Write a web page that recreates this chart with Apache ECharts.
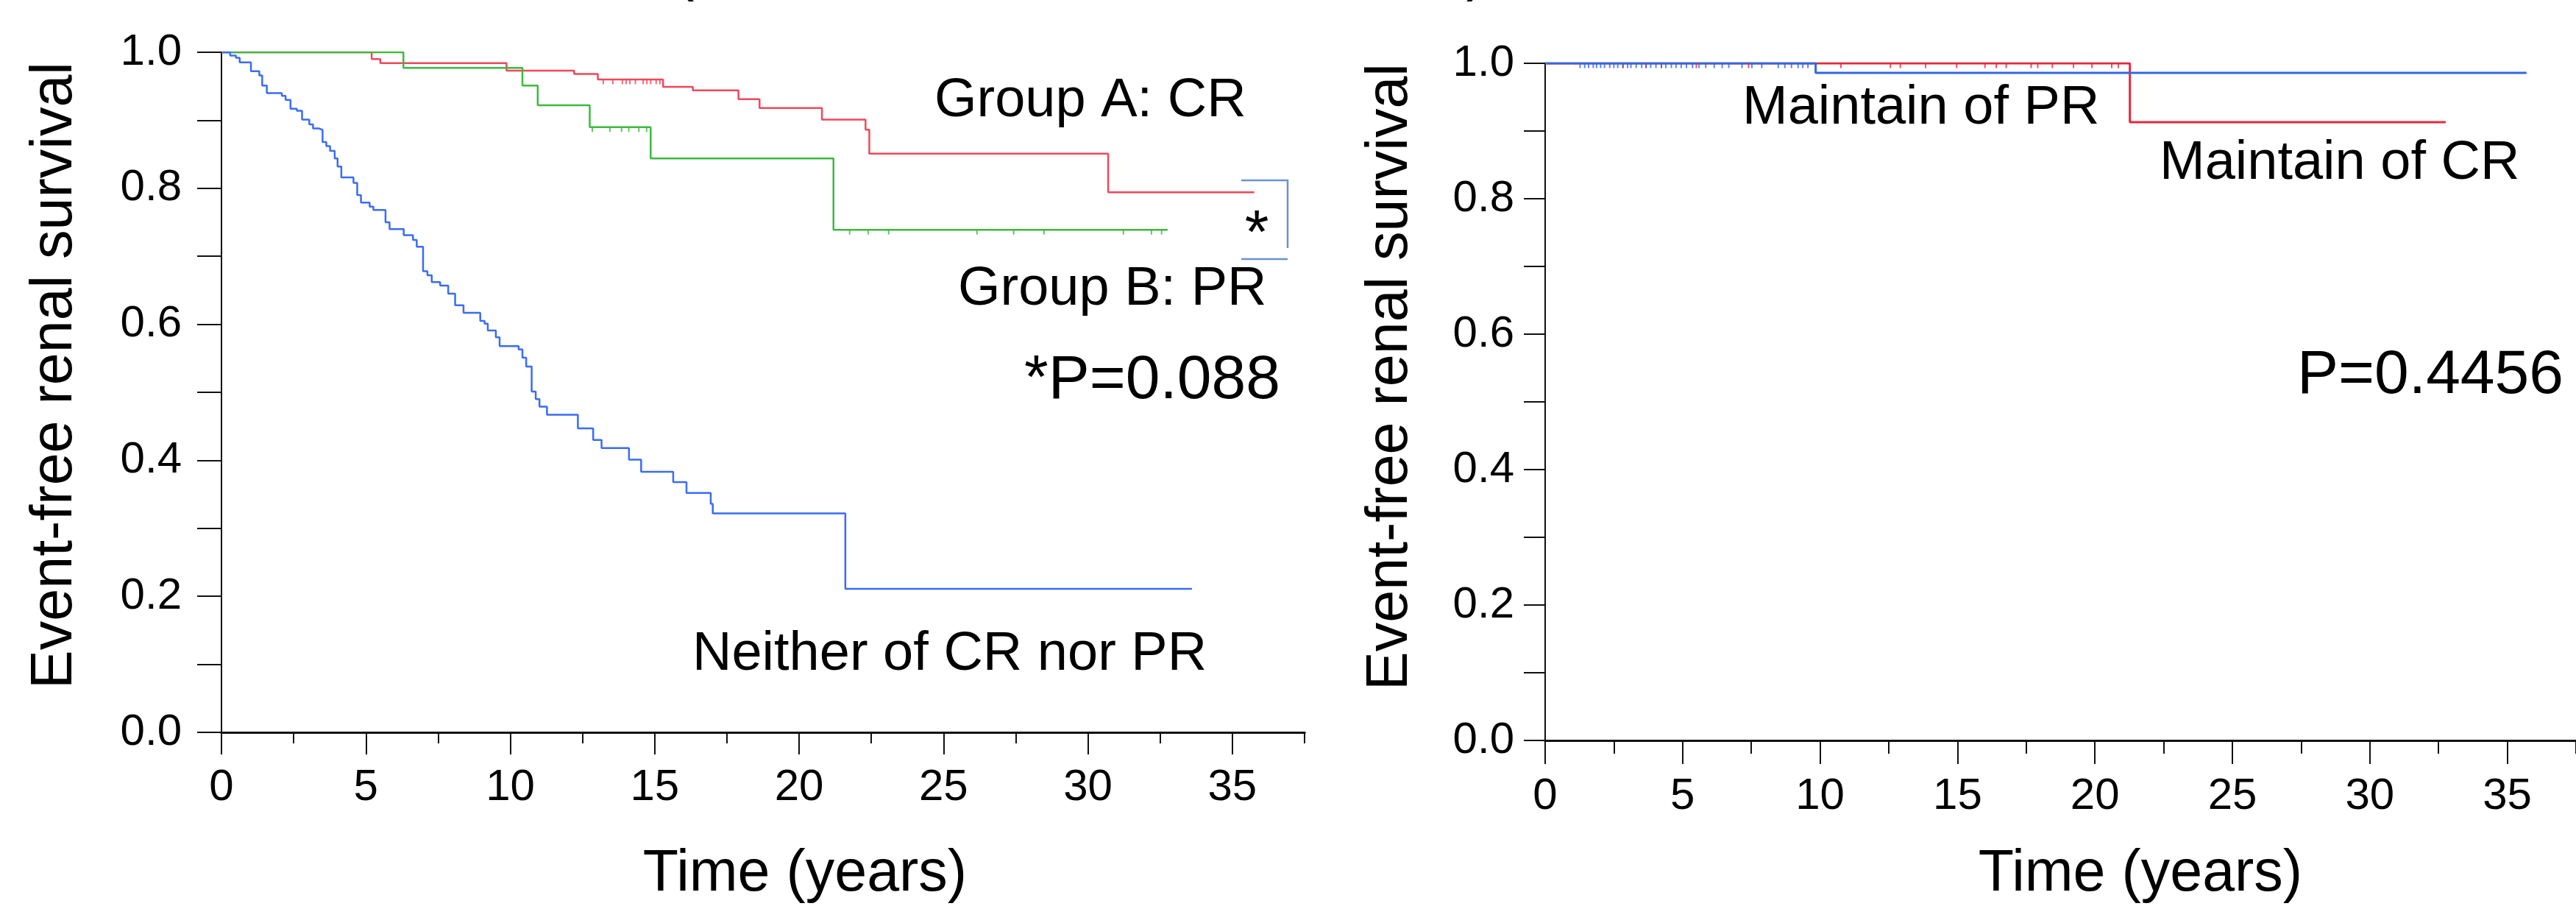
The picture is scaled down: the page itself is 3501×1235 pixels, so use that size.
<!DOCTYPE html>
<html>
<head>
<meta charset="utf-8">
<script src="https://cdn.jsdelivr.net/npm/echarts@6/dist/echarts.min.js"></script>
<style>
  html, body { margin: 0; padding: 0; background: #fff; }
  #chart { width: 3501px; height: 1235px; }
</style>
</head>
<body>
<div id="chart"></div>
<script>
// left panel: Group A (CR), Group B (PR), neither
const crTime = [0, 5.20, 5.50, 9.87, 12.21, 13.03, 15.29, 16.32, 17.90, 18.63, 20.79, 22.30, 22.43, 30.70, 35.76];
const crSurv = [1.000, 0.990, 0.984, 0.973, 0.968, 0.960, 0.949, 0.944, 0.931, 0.918, 0.901, 0.886, 0.851, 0.794, 0.794];
const crCensor = [13.22, 13.55, 13.88, 14.01, 14.14, 14.33, 14.60, 14.73, 14.86, 15.05, 15.18];

const prTime = [0, 6.30, 10.42, 10.95, 12.75, 14.86, 21.19, 32.76];
const prSurv = [1.000, 0.977, 0.951, 0.922, 0.890, 0.844, 0.739, 0.739];
const prCensor = [12.84, 13.45, 13.85, 14.10, 14.45, 14.72, 21.75, 22.39, 23.10, 26.16, 27.43, 28.48, 31.23, 32.20, 32.55];

const nTime = [0, 0.30, 0.50, 0.63, 1.02, 1.31, 1.41, 1.57, 2.09, 2.22, 2.39, 2.61, 2.79, 3.04, 3.17, 3.37,
  3.50, 3.63, 3.76, 3.92, 4.02, 4.15, 4.57, 4.70, 4.83, 5.13, 5.26, 5.68, 5.82, 6.31, 6.63, 6.76, 6.98,
  7.13, 7.28, 7.57, 7.85, 8.09, 8.38, 8.96, 9.11, 9.22, 9.50, 9.63, 10.29, 10.42, 10.55, 10.74, 10.88,
  11.01, 11.27, 12.34, 12.87, 13.16, 14.11, 14.53, 15.64, 16.10, 16.94, 17.01, 21.60, 33.60];
const nSurv = [1.000, 0.995, 0.992, 0.985, 0.972, 0.966, 0.951, 0.940, 0.936, 0.930, 0.917, 0.914, 0.901, 0.894,
  0.888, 0.886, 0.868, 0.862, 0.855, 0.844, 0.832, 0.816, 0.808, 0.790, 0.779, 0.773, 0.768, 0.750, 0.740,
  0.731, 0.724, 0.714, 0.678, 0.672, 0.662, 0.657, 0.645, 0.628, 0.617, 0.605, 0.601, 0.591, 0.581, 0.568,
  0.563, 0.551, 0.538, 0.501, 0.490, 0.479, 0.467, 0.447, 0.430, 0.418, 0.401, 0.383, 0.368, 0.352, 0.336,
  0.322, 0.211, 0.211];

// right panel: maintain of CR / PR
const mCrTime = [0, 21.27, 32.76];
const mCrSurv = [1.000, 0.913, 0.913];
const mCrCensor = [2.83, 3.67, 4.23, 5.50, 7.40, 10.76, 12.56, 12.92, 13.84, 14.97, 16.00, 16.41, 16.77, 17.68,
  17.92, 18.45, 19.22, 19.89, 20.61, 20.85];
const mPrTime = [0, 9.84, 35.70];
const mPrSurv = [1.000, 0.986, 0.986];
const mPrCensor = [1.27, 1.44, 1.58, 1.75, 1.87, 2.02, 2.16, 2.35, 2.50, 2.64, 2.83, 3.00, 3.12, 3.31, 3.51,
  3.67, 3.84, 4.03, 4.23, 4.39, 4.59, 4.76, 4.95, 5.14, 5.36, 5.60, 5.84, 6.15, 6.44, 6.68, 7.16, 7.52,
  7.88, 8.48, 8.72, 8.96, 9.20, 9.37, 9.56];

// axis ticks
const xTickLabels = [0, 5, 10, 15, 20, 25, 30, 35];
const xMinorTicks = [2.5, 7.5, 12.5, 17.5, 22.5, 27.5, 32.5, 37.5];
const yTicks = [0, 0.1, 0.2, 0.3, 0.4, 0.5, 0.6, 0.7, 0.8, 0.9, 1.0];
const yTickLabels = [0, 0.2, 0.4, 0.6, 0.8, 1.0];

const FONT = '"Liberation Sans", Arial, sans-serif';
const INK = '#111';

function pairs(ts, ss) { return ts.map((t, i) => [t, ss[i]]); }
function survAt(ts, ss, t) {
  let v = ss[0];
  ts.forEach((x, i) => { if (x <= t) v = ss[i]; });
  return v;
}

function kmLine(name, ts, ss, color, width, gi) {
  return {
    type: 'line', name, step: 'end', showSymbol: false, xAxisIndex: gi * 3, yAxisIndex: gi * 2,
    data: pairs(ts, ss), lineStyle: { color, width }, itemStyle: { color }, silent: true, z: 3,
  };
}
function censor(ts, ss, cs, color, gi) {
  return {
    type: 'scatter', xAxisIndex: gi * 3, yAxisIndex: gi * 2, symbol: 'rect',
    symbolSize: [2, 7], symbolOffset: [0, 3], itemStyle: { color }, silent: true, z: 3,
    data: cs.map((t) => [t, survAt(ts, ss, t)]),
  };
}

function xAxes(gi, majorLen, minorLen, margin) {
  return [
    {
      type: 'value', gridIndex: gi, min: 0, max: 37.5, position: 'bottom',
      axisLine: { show: true, onZero: false, lineStyle: { color: INK, width: 3 } },
      axisTick: { show: true, customValues: xTickLabels, length: majorLen, lineStyle: { color: INK, width: 2 } },
      axisLabel: { customValues: xTickLabels, margin, fontSize: 60, fontFamily: FONT, color: '#000' },
      splitLine: { show: false },
    },
    {
      type: 'value', gridIndex: gi, min: 0, max: 37.5, position: 'bottom',
      axisLine: { show: false },
      axisTick: { show: true, customValues: xMinorTicks, length: minorLen, lineStyle: { color: INK, width: 2 } },
      axisLabel: { show: false }, splitLine: { show: false },
    },
    {
      type: 'value', gridIndex: gi, min: 0, max: 37.5, position: 'top', offset: 1,
      axisLine: { show: true, lineStyle: { color: INK, width: 3 } },
      axisTick: { show: false }, axisLabel: { show: false }, splitLine: { show: false },
    },
  ];
}
function yAxes(gi, tickLen, margin) {
  return [
    {
      type: 'value', gridIndex: gi, min: 0, max: 1, position: 'left',
      axisLine: { show: true, onZero: false, lineStyle: { color: INK, width: 2 } },
      axisTick: { show: true, customValues: yTicks, length: tickLen, lineStyle: { color: INK, width: 2 } },
      axisLabel: {
        customValues: yTickLabels, margin, fontSize: 60, fontFamily: FONT, color: '#000',
        formatter: (v) => v.toFixed(1),
      },
      splitLine: { show: false },
    },
    {
      type: 'value', gridIndex: gi, min: 0, max: 1, position: 'right',
      axisLine: { show: gi === 0, lineStyle: { color: INK, width: 2 } },
      axisTick: { show: false }, axisLabel: { show: false }, splitLine: { show: false },
    },
  ];
}

function txt(text, x, y, size, align, rotation) {
  return {
    type: 'text', x, y, rotation: rotation || 0, silent: true,
    style: { text, fill: '#000', fontSize: size, fontFamily: FONT, align: align || 'left', verticalAlign: 'middle' },
  };
}
const bracketColor = '#6b93cf';

const chart = echarts.init(document.getElementById('chart'));
chart.setOption({
  animation: false,
  backgroundColor: '#fff',
  grid: [
    { left: 301, top: 71, width: 1472, height: 924 },
    { left: 2100, top: 86, width: 1414, height: 920 },
  ],
  xAxis: [...xAxes(0, 30, 15, 45), ...xAxes(1, 32, 18, 46)],
  yAxis: [...yAxes(0, 33, 54), ...yAxes(1, 29, 42)],
  series: [
    kmLine('Group A: CR', crTime, crSurv, '#f0485a', 2.5, 0),
    kmLine('Group B: PR', prTime, prSurv, '#3cba3c', 2.5, 0),
    kmLine('Neither of CR nor PR', nTime, nSurv, '#3a6cf4', 2.5, 0),
    censor(crTime, crSurv, crCensor, '#f0485a', 0),
    censor(prTime, prSurv, prCensor, '#3cba3c', 0),
    kmLine('Maintain of CR', mCrTime, mCrSurv, '#e8283c', 3, 1),
    kmLine('Maintain of PR', mPrTime, mPrSurv, '#2e6ae6', 3, 1),
    censor(mCrTime, mCrSurv, mCrCensor, '#e8283c', 1),
    censor(mPrTime, mPrSurv, mPrCensor, '#2e6ae6', 1),
  ],
  graphic: {
    elements: [
      txt('(', 930, -37, 80, 'center'),
      txt(')', 2006, -37, 80, 'center'),
      txt('Group A: CR', 1270, 138, 74),
      txt('Group B: PR', 1302, 394, 74),
      txt('*P=0.088', 1392, 518, 84),
      txt('Neither of CR nor PR', 941, 890, 74),
      txt('*', 1708, 321, 84, 'center'),
      txt('Maintain of PR', 2368, 148, 74),
      txt('Maintain of CR', 2935, 223, 74),
      txt('P=0.4456', 3122, 511, 84),
      txt('Time (years)', 1094, 1188, 79, 'center'),
      txt('Time (years)', 2909, 1188, 79, 'center'),
      txt('Event-free renal survival', 75, 510, 79, 'center', Math.PI / 2),
      txt('Event-free renal survival', 1890, 512, 79, 'center', Math.PI / 2),
      {
        type: 'polyline', silent: true,
        shape: { points: [[1687, 245], [1750, 245], [1750, 337]] },
        style: { stroke: bracketColor, lineWidth: 2.5, fill: null },
      },
      {
        type: 'line', silent: true,
        shape: { x1: 1687, y1: 352, x2: 1750, y2: 352 },
        style: { stroke: bracketColor, lineWidth: 2.5 },
      },
    ],
  },
});
</script>
</body>
</html>
